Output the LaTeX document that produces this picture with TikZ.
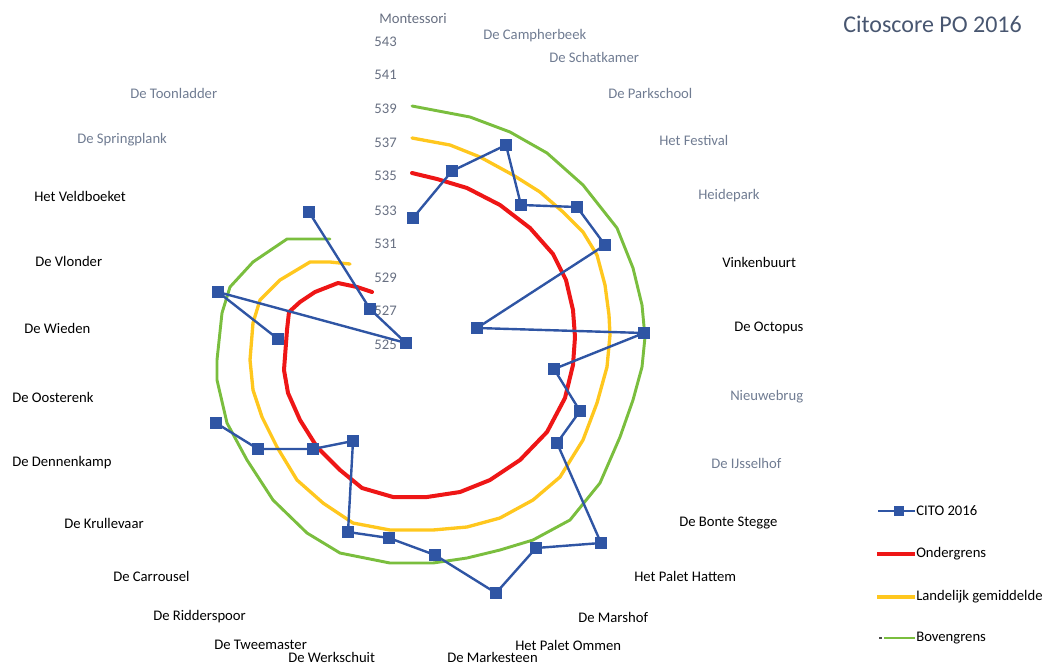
\documentclass[tikz,border=0pt]{standalone}
\usepackage{fontspec}
\setmainfont{Carlito}
\usepackage{xcolor}
\usepackage{tikz}
\usetikzlibrary{plotmarks}

\definecolor{citoblue}{RGB}{47,85,164}
\definecolor{ondred}{RGB}{238,22,22}
\definecolor{gemyellow}{RGB}{255,199,30}
\definecolor{bovgreen}{RGB}{122,190,62}
\definecolor{lblgray}{RGB}{112,124,146}
\definecolor{axisgray}{RGB}{104,112,130}
\definecolor{titlegray}{RGB}{72,86,112}

\tikzset{
  school/.style={anchor=west, inner sep=0.75pt, font=\fontsize{11}{13}\selectfont},
  schoolgray/.style={school, text=lblgray},
  axisnum/.style={anchor=east, inner sep=0.75pt, text=axisgray, font=\fontsize{11}{13}\selectfont},
  citoline/.style={citoblue, line width=1.8pt, line join=round, mark=square*, mark size=4.2pt,
    mark options={solid, fill=citoblue, draw=citoblue, line width=0.4pt}},
  grens/.style={line width=2.5pt, line join=round, line cap=round},
}

\begin{document}
\begin{tikzpicture}[x=0.75pt,y=0.75pt,yscale=-1,xscale=1]
\useasboundingbox (0,0) rectangle (1047,665);

% Title
\node (title) [anchor=west, inner sep=0.75pt, text=titlegray, font=\fontsize{18}{21}\selectfont] at (842,24) {Citoscore PO 2016};

% Axis numbers
\foreach \val/\yy in {543/42, 541/75, 539/109, 537/143, 535/176, 533/211, 531/244, 529/278, 527/311, 525/345}
  \node (ax\val) [axisnum] at (398,\yy) {\val};

%Bovengrens
\draw [bovgreen, grens, line width=2.2pt] plot coordinates {(412,106) (470,117) (510,132) (547,153) (583,185) (617,228) (633,268) (642,305) (645,337) (642,367) (633,400) (620,437) (600,483) (570,520) (533,540) (500,550) (467,558) (433,563) (400,563) (390,563) (340,553) (307,533) (273,500) (247,460) (227,423) (217,380) (217,360) (222,313) (230,287) (253,262) (287,239) (330,239)};

%Landelijk gemiddelde
\draw [gemyellow, grens] plot coordinates {(412,138) (450,145) (480,157) (513,175) (540,192) (563,212) (583,232) (597,255) (605,285) (609,315) (610,335) (607,367) (597,403) (583,440) (560,477) (533,500) (500,518) (467,527) (433,530) (400,530) (390,530) (353,523) (323,503) (297,480) (277,447) (262,417) (253,390) (250,360) (253,323) (260,300) (280,280) (310,262) (330,262) (350,264)};

%Ondergrens
\draw [ondred, grens, line width=3pt] plot coordinates {(412,173) (437,179) (467,188) (500,205) (530,228) (553,254) (566,280) (573,310) (575,337) (573,365) (565,398) (547,432) (520,460) (490,480) (460,492) (427,497) (393,497) (362,488) (340,470) (317,447) (300,420) (288,393) (284,370) (287,330) (289,312) (300,302) (315,292) (338,283) (357,287) (372,292)};

%CITO 2016
\draw [citoline] plot coordinates {(413,218) (452,171) (506,145) (521,205) (577,207) (605,245) (477,328) (644,333) (554,369) (580,411) (557,443) (601,543) (536,548) (496,593) (435,555) (389,538) (348,532) (353,441) (313,449) (258,449) (216,423)};
\draw [citoline] plot coordinates {(278,339) (218,292) (406,343) (370,309) (309,212)};

% Text Node
\node (montessori) [school, text=axisgray] at (378,19) {Montessori};
\node (campherbeek) [schoolgray] at (482,36) {De Campherbeek};
\node (schatkamer) [schoolgray] at (548,57) {De Schatkamer};
\node (parkschool) [schoolgray] at (607,93) {De Parkschool};
\node (festival) [schoolgray] at (658,140) {Het Festival};
\node (heidepark) [schoolgray] at (697,196) {Heidepark};
\node (vinkenbuurt) [school] at (721,262) {Vinkenbuurt};
\node (octopus) [school] at (733,328) {De Octopus};
\node (nieuwebrug) [schoolgray] at (729,397) {Nieuwebrug};
\node (ijsselhof) [schoolgray] at (710,463) {De IJsselhof};
\node (bontestegge) [school] at (678,523) {De Bonte Stegge};
\node (palethattem) [school] at (633,576) {Het Palet Hattem};
\node (marshof) [school] at (577,617) {De Marshof};
\node (paletommen) [school] at (514,645) {Het Palet Ommen};
\node (markesteen) [school] at (446,657) {De Markesteen};
\node (werkschuit) [school] at (287,657) {De Werkschuit};
\node (tweemaster) [school] at (213,645) {De Tweemaster};
\node (ridderspoor) [school] at (152,617) {De Ridderspoor};
\node (carrousel) [school] at (112,576) {De Carrousel};
\node (krullevaar) [school] at (63,523) {De Krullevaar};
\node (dennenkamp) [school] at (11,463) {De Dennenkamp};
\node (oosterenk) [school] at (11,397) {De Oosterenk};
\node (wieden) [school] at (23,328) {De Wieden};
\node (vlonder) [school] at (34,261) {De Vlonder};
\node (veldboeket) [school] at (33,196) {Het Veldboeket};
\node (springplank) [schoolgray] at (76,140) {De Springplank};
\node (toonladder) [schoolgray] at (129,93) {De Toonladder};

% Legend
\node (legcito) [school] at (915,511) {CITO 2016};
\node (legond) [school] at (915,554) {Ondergrens};
\node (leggem) [school] at (915,597) {Landelijk gemiddelde};
\node (legbov) [school] at (915,638) {Bovengrens};
\coordinate (kcito) at (878,511);
\coordinate (kond) at (877,554);
\coordinate (kgem) at (877,597);
\coordinate (kbov) at (884,638);
\draw [citoblue, line width=1.8pt] (kcito) -- (legcito.west);
\node (legmark) [fill=citoblue, minimum size=7pt, inner sep=0pt] at (899,511) {};
\draw [ondred, line width=3pt] (kond) -- (legond.west);
\draw [gemyellow, line width=2.5pt] (kgem) -- (leggem.west);
\draw [bovgreen, line width=2.2pt] (kbov) -- (legbov.west);
\draw [black!70, line width=2pt] (879,638) -- (882,638);

\end{tikzpicture}
\end{document}
